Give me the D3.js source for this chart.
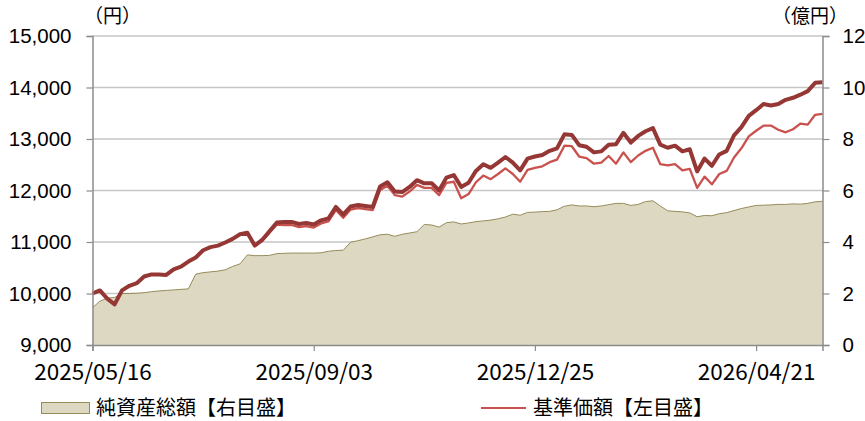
<!DOCTYPE html>
<html>
<head>
<meta charset="utf-8">
<script src="https://cdn.jsdelivr.net/npm/d3@7"></script>
<style>
  body { margin: 0; background: #fff; }
  svg { display: block; }
  text { font-family: "Liberation Sans", Arial, sans-serif; fill: #000; }
  .jp { font-family: "Noto Sans CJK JP", sans-serif; }
</style>
</head>
<body>
<div id="chart"></div>
<script>
const tickLabels = ['2025/05/16', '2025/09/03', '2025/12/25', '2026/04/21']
const tickIndex = [0, 30, 60, 90]

// 分配金再投資 (thick line, no legend entry)
const reinvested = [
  10000, 10060, 9900, 9790, 10060, 10150, 10200, 10330, 10370, 10370,
  10360, 10470, 10520, 10620, 10700, 10840, 10900, 10930, 10990, 11060,
  11150, 11180, 10930, 11040, 11210, 11380, 11390, 11390, 11350, 11370,
  11340, 11420, 11460, 11680, 11530, 11690, 11720, 11700, 11680, 12080,
  12160, 11980, 11970, 12070, 12200, 12140, 12140, 12000, 12250, 12300,
  12070, 12150, 12380, 12510, 12440, 12540, 12650, 12540, 12390, 12620,
  12660, 12690, 12770, 12820, 13090, 13080, 12880, 12850, 12740, 12760,
  12890, 12900, 13120, 12930, 13060, 13150, 13210, 12890, 12830, 12870,
  12760, 12800, 12370, 12620, 12480, 12700, 12770, 13070, 13230, 13450,
  13560, 13680, 13650, 13680, 13760, 13800, 13860, 13930, 14090, 14100
]

// 基準価額【左目盛】
const navPrice = [
  10000, 10060, 9900, 9790, 10060, 10150, 10200, 10330, 10370, 10370,
  10360, 10470, 10520, 10620, 10700, 10840, 10900, 10930, 10990, 11060,
  11150, 11180, 10930, 11020, 11180, 11340, 11330, 11330, 11290, 11310,
  11280, 11360, 11400, 11620, 11470, 11630, 11660, 11640, 11620, 12010,
  12090, 11910, 11880, 11980, 12110, 12050, 12050, 11910, 12150, 12170,
  11850, 11930, 12160, 12290, 12220, 12320, 12430, 12320, 12170, 12400,
  12440, 12470, 12550, 12600, 12870, 12860, 12660, 12630, 12520, 12540,
  12670, 12520, 12740, 12550, 12680, 12770, 12830, 12510, 12490, 12510,
  12390, 12420, 12050, 12270, 12120, 12320, 12380, 12640, 12820, 13050,
  13160, 13260, 13260, 13180, 13130, 13190, 13300, 13280, 13470, 13490
]

// 純資産総額【右目盛】 (億円)
const netAssets = [
  1.45, 1.70, 1.82, 1.85, 2.00, 2.00, 2.01, 2.03, 2.07, 2.10,
  2.12, 2.14, 2.16, 2.18, 2.75, 2.81, 2.84, 2.87, 2.92, 3.05,
  3.15, 3.50, 3.47, 3.47, 3.48, 3.55, 3.56, 3.57, 3.57, 3.57,
  3.57, 3.58, 3.64, 3.67, 3.68, 3.99, 4.05, 4.12, 4.20, 4.28,
  4.30, 4.22, 4.30, 4.35, 4.40, 4.68, 4.66, 4.58, 4.75, 4.78,
  4.70, 4.74, 4.79, 4.82, 4.85, 4.90, 4.97, 5.08, 5.04, 5.15,
  5.16, 5.18, 5.19, 5.25, 5.39, 5.44, 5.40, 5.40, 5.37, 5.40,
  5.45, 5.50, 5.50, 5.42, 5.46, 5.57, 5.60, 5.40, 5.21, 5.19,
  5.17, 5.13, 4.98, 5.03, 5.02, 5.10, 5.14, 5.22, 5.30, 5.36,
  5.42, 5.43, 5.44, 5.46, 5.46, 5.48, 5.47, 5.50, 5.56, 5.58
]

const leftTicks = [9000, 10000, 11000, 12000, 13000, 14000, 15000]
const rightTicks = [0, 2, 4, 6, 8, 10, 12]

const width = 865, height = 421
const plotLeft = 92.5, plotRight = 822.5, plotTop = 36, plotBottom = 345

const svg = d3.select('#chart').append('svg')
  .attr('width', width)
  .attr('height', height)

const x = d3.scaleLinear().domain([0, reinvested.length - 1]).range([plotLeft, plotRight])
const yL = d3.scaleLinear().domain([9000, 15000]).range([plotBottom, plotTop])
const yR = d3.scaleLinear().domain([0, 12]).range([plotBottom, plotTop])

// grid
svg.append('g').selectAll('line').data(leftTicks.slice(1)).enter()
  .append('line')
  .attr('x1', plotLeft).attr('x2', plotRight)
  .attr('y1', d => yL(d)).attr('y2', d => yL(d))
  .attr('stroke', '#c6c6c6').attr('stroke-width', 1.4)

// area
const area = d3.area()
  .x((d, i) => x(i))
  .y0(plotBottom)
  .y1(d => yR(d))

svg.append('path')
  .datum(netAssets)
  .attr('d', area)
  .attr('fill', '#ddd8c2')

svg.append('path')
  .datum(netAssets)
  .attr('d', d3.line().x((d, i) => x(i)).y(d => yR(d)))
  .attr('fill', 'none')
  .attr('stroke', '#968c5a')
  .attr('stroke-width', 1)

// lines
const line = d3.line().x((d, i) => x(i)).y(d => yL(d))

svg.append('path')
  .datum(navPrice)
  .attr('d', line)
  .attr('fill', 'none')
  .attr('stroke', '#c9514e')
  .attr('stroke-width', 2.3)
  .attr('stroke-linejoin', 'round')

svg.append('path')
  .datum(reinvested)
  .attr('d', line)
  .attr('fill', 'none')
  .attr('stroke', '#953735')
  .attr('stroke-width', 4)
  .attr('stroke-linejoin', 'round')

// axes
const axisL = svg.append('g')
  .attr('transform', `translate(${plotLeft},0)`)
  .call(d3.axisLeft(yL).tickValues(leftTicks).tickFormat(d3.format(',')).tickSize(6).tickPadding(15))

const axisR = svg.append('g')
  .attr('transform', `translate(${plotRight},0)`)
  .call(d3.axisRight(yR).tickValues(rightTicks).tickSize(7).tickPadding(13))

const axisB = svg.append('g')
  .attr('transform', `translate(0,${plotBottom})`)
  .call(d3.axisBottom(x).tickValues(tickIndex).tickFormat((d, i) => tickLabels[i]).tickSize(6).tickPadding(13))

;[axisL, axisR, axisB].forEach(a => {
  a.select('.domain').attr('stroke', '#8c8c8c').attr('stroke-width', 1.5)
  a.selectAll('.tick line').attr('stroke', '#8c8c8c').attr('stroke-width', 1.2)
  a.selectAll('.tick text').attr('font-size', 20.5).attr('fill', '#000')
    .attr('font-family', '"Liberation Sans", Arial, sans-serif')
})
axisB.selectAll('.tick text').attr('font-size', 22.5).attr('class', 'jp')
  .attr('font-family', '"Noto Sans CJK JP", sans-serif')

// units
svg.append('text').attr('class', 'jp').attr('x', 84).attr('y', 23)
  .attr('font-size', 19).text('（円）')
svg.append('text').attr('class', 'jp').attr('x', 772).attr('y', 23)
  .attr('font-size', 19).text('（億円）')

// legend
const legend = svg.append('g')
legend.append('rect')
  .attr('x', 41.5).attr('y', 402.5).attr('width', 48).attr('height', 11)
  .attr('fill', '#ddd8c2').attr('stroke', '#968c5a').attr('stroke-width', 1)
legend.append('text').attr('class', 'jp').attr('x', 96).attr('y', 415)
  .attr('font-size', 20).text('純資産総額【右目盛】')

legend.append('line')
  .attr('x1', 481).attr('x2', 526).attr('y1', 408).attr('y2', 408)
  .attr('stroke', '#c9514e').attr('stroke-width', 2)
legend.append('text').attr('class', 'jp').attr('x', 533).attr('y', 415)
  .attr('font-size', 20).text('基準価額【左目盛】')
</script>
</body>
</html>
